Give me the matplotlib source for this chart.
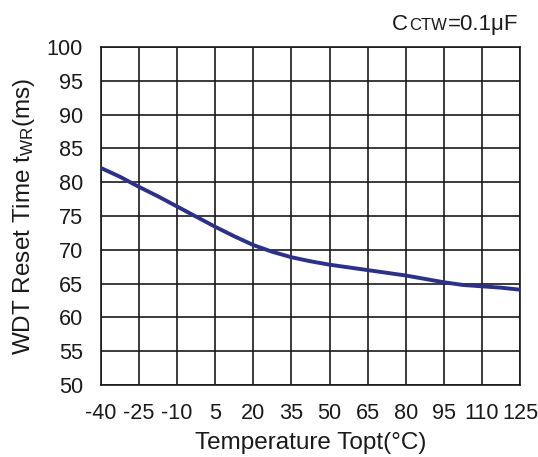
import matplotlib.pyplot as plt

plt.rcParams['font.family'] = ['Liberation Sans', 'DejaVu Sans']
plt.rcParams['mathtext.fontset'] = 'custom'
plt.rcParams['mathtext.rm'] = 'Liberation Sans'
plt.rcParams['axes.unicode_minus'] = False

# data
temp = [-40, -32.5, -25, -17.5, -10, -2.5, 5, 12.5, 20, 27.5, 35, 42.5, 50,
        57.5, 65, 72.5, 80, 87.5, 95, 102.5, 110, 117.5, 125]
reset_ms = [82.1, 80.8, 79.3, 77.9, 76.4, 74.9, 73.4, 72.0, 70.7, 69.7, 68.9, 68.3, 67.8,
            67.4, 67.0, 66.6, 66.2, 65.7, 65.2, 64.8, 64.6, 64.4, 64.1]
x_ticks = [-40, -25, -10, 5, 20, 35, 50, 65, 80, 95, 110, 125]
y_ticks = [50, 55, 60, 65, 70, 75, 80, 85, 90, 95, 100]

fig = plt.figure(figsize=(5.38, 4.57), dpi=100)
ax = fig.add_axes([0.1877, 0.1575, 0.7788, 0.7397])

ax.plot(temp, reset_ms, color='#2B3090', lw=2.8, solid_joinstyle='round', zorder=3)

ax.set_xlim(-40, 125)
ax.set_ylim(50, 100)
ax.set_xticks(x_ticks)
ax.set_yticks(y_ticks)
ax.grid(True, color='#1a1a1a', lw=1.2)
for s in ax.spines.values():
    s.set_color('#1a1a1a')
    s.set_linewidth(1.2)
ax.tick_params(length=0, labelsize=15.6, colors='#1a1a1a')
ax.tick_params(axis='y', pad=13)
ax.tick_params(axis='x', pad=13)

ax.set_xlabel('Temperature Topt(°C)', fontsize=17.5, color='#1a1a1a', labelpad=6)
ax.set_ylabel(r'WDT Reset Time t$\mathregular{_{WR}}$(ms)', fontsize=17.5, color='#1a1a1a', labelpad=7)

# top-right condition note, pieces chained left to right
fig.canvas.draw()
r = fig.canvas.get_renderer()
base_y = 1 - 30 / 457
t1 = fig.text(392 / 538, base_y, 'C', fontsize=16, va='baseline', ha='left', color='#1a1a1a')
x1 = t1.get_window_extent(r).x1 / fig.bbox.width
t2 = fig.text(x1 + 0.002, base_y, 'CTW', fontsize=12, va='baseline', ha='left', color='#1a1a1a')
x2 = t2.get_window_extent(r).x1 / fig.bbox.width
fig.text(x2 + 0.001, base_y, '=0.1μF', fontsize=16, va='baseline', ha='left', color='#1a1a1a')

fig.savefig('out.png', dpi=100)
